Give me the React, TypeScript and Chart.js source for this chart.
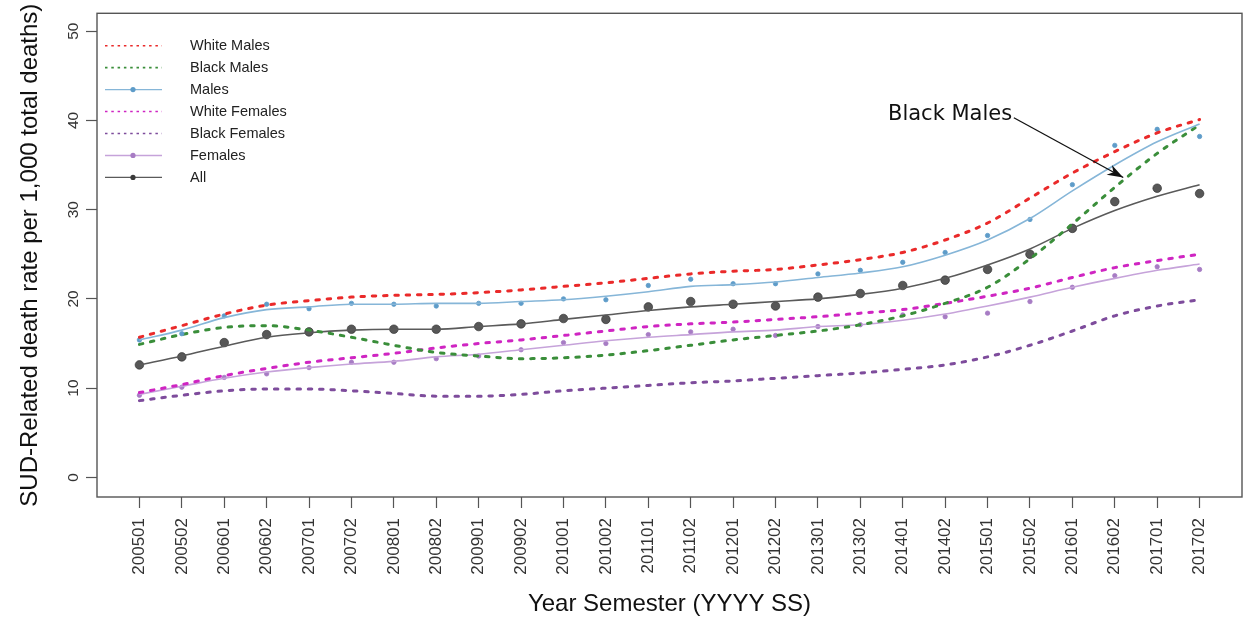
import React, { useEffect, useRef } from "react";
import { Chart, registerables } from "chart.js";

Chart.register(...registerables);

// ---------- data ----------
const semesters = [
  "200501", "200502", "200601", "200602", "200701", "200702", "200801", "200802",
  "200901", "200902", "201001", "201002", "201101", "201102", "201201", "201202",
  "201301", "201302", "201401", "201402", "201501", "201502", "201601", "201602",
  "201701", "201702",
];

const whiteMales = [15.7, 17.0, 18.3, 19.3, 19.8, 20.2, 20.4, 20.5, 20.7, 21.0, 21.4, 21.8, 22.3, 22.8, 23.1, 23.3, 23.8, 24.4, 25.2, 26.6, 28.5, 31.3, 34.1, 36.5, 38.6, 40.1];
const blackMales = [14.9, 16.0, 16.8, 17.0, 16.5, 15.7, 14.8, 14.0, 13.6, 13.3, 13.4, 13.7, 14.2, 14.8, 15.4, 15.9, 16.4, 17.1, 18.1, 19.5, 21.3, 24.5, 28.4, 32.5, 36.3, 39.5];
const malesFit = [15.4, 16.5, 17.9, 18.8, 19.1, 19.4, 19.4, 19.5, 19.5, 19.7, 19.9, 20.3, 20.8, 21.4, 21.6, 21.9, 22.4, 22.9, 23.6, 24.9, 26.6, 29.0, 32.1, 35.0, 37.6, 39.6];
const malesObs = [15.4, 16.1, 18.1, 19.4, 18.9, 19.5, 19.4, 19.2, 19.5, 19.5, 20.0, 19.9, 21.5, 22.2, 21.7, 21.7, 22.8, 23.2, 24.1, 25.2, 27.1, 28.9, 32.8, 37.2, 39.0, 38.2];
const whiteFemales = [9.5, 10.4, 11.4, 12.2, 12.9, 13.4, 13.9, 14.5, 15.0, 15.4, 15.9, 16.4, 16.9, 17.2, 17.4, 17.7, 18.0, 18.4, 18.8, 19.5, 20.3, 21.2, 22.4, 23.5, 24.3, 25.0];
const blackFemales = [8.6, 9.2, 9.7, 9.9, 9.9, 9.7, 9.4, 9.1, 9.1, 9.3, 9.7, 10.0, 10.3, 10.6, 10.8, 11.1, 11.4, 11.7, 12.1, 12.6, 13.5, 14.8, 16.4, 18.1, 19.2, 19.9];
const femalesFit = [9.3, 10.2, 11.1, 11.8, 12.3, 12.7, 13.0, 13.5, 13.8, 14.3, 14.8, 15.3, 15.7, 16.0, 16.3, 16.5, 16.9, 17.1, 17.6, 18.3, 19.2, 20.2, 21.3, 22.3, 23.2, 23.9];
const femalesObs = [9.2, 10.1, 11.2, 11.6, 12.3, 12.9, 12.9, 13.3, 13.6, 14.3, 15.1, 15.0, 16.0, 16.3, 16.6, 15.9, 16.9, 17.1, 18.2, 18.0, 18.4, 19.7, 21.3, 22.6, 23.6, 23.3];
const allFit = [12.6, 13.6, 14.7, 15.7, 16.2, 16.5, 16.6, 16.6, 16.9, 17.2, 17.7, 18.2, 18.7, 19.1, 19.4, 19.7, 20.0, 20.5, 21.2, 22.3, 23.8, 25.6, 27.9, 29.9, 31.5, 32.8];
const allObs = [12.6, 13.5, 15.1, 16.0, 16.3, 16.6, 16.6, 16.6, 16.9, 17.2, 17.8, 17.7, 19.1, 19.7, 19.4, 19.2, 20.2, 20.6, 21.5, 22.1, 23.3, 25.0, 27.9, 30.9, 32.4, 31.8];

const yTicks = [0, 10, 20, 30, 40, 50];
const legendNames = ["White Males", "Black Males", "Males", "White Females", "Black Females", "Females", "All"];
const annotationLabel = "Black Males";

// ---------- styles ----------
const FONT = "'Liberation Sans', Arial, Helvetica, sans-serif";
const C = {
  red: "#EA2A2A",
  green: "#3A8E3A",
  blue: "#86B6D8",
  bluePt: "#5E9CC9",
  magenta: "#CF25C2",
  purple: "#7E4C9C",
  lilac: "#C6A3DA",
  lilacPt: "#A77CC4",
  gray: "#5A5A5A",
  dark: "#3A3A3A",
};
const legendStyles = [
  { color: C.red, dotted: true },
  { color: C.green, dotted: true },
  { color: C.blue, dotted: false, pt: C.bluePt },
  { color: C.magenta, dotted: true },
  { color: C.purple, dotted: true },
  { color: C.lilac, dotted: false, pt: C.lilacPt },
  { color: C.gray, dotted: false, pt: C.dark },
];

const xy = (arr: number[]) => arr.map((v, i) => ({ x: i, y: v }));

const dashed = (label: string, data: number[], color: string) => ({
  label,
  data: xy(data),
  borderColor: color,
  backgroundColor: color,
  borderWidth: 3,
  borderDash: [3.5, 7.8],
  borderCapStyle: "round" as const,
  pointRadius: 0,
  cubicInterpolationMode: "monotone" as const,
  fill: false,
});
const solid = (label: string, data: number[], color: string) => ({
  label,
  data: xy(data),
  borderColor: color,
  backgroundColor: color,
  borderWidth: 1.6,
  pointRadius: 0,
  cubicInterpolationMode: "monotone" as const,
  fill: false,
});
const dots = (label: string, data: number[], color: string, r: number) => ({
  label,
  data: xy(data),
  showLine: false,
  borderColor: color,
  backgroundColor: color,
  borderWidth: 0.8,
  pointRadius: r,
});

const framePlugin = {
  id: "frame",
  afterDatasetsDraw(chart: any) {
    const { ctx, chartArea: a } = chart;
    ctx.save();
    ctx.strokeStyle = "#555";
    ctx.lineWidth = 1.4;
    ctx.strokeRect(a.left, a.top, a.right - a.left, a.bottom - a.top);
    ctx.restore();
  },
};

const legendPlugin = {
  id: "customLegend",
  afterDraw(chart: any) {
    const { ctx } = chart;
    ctx.save();
    const x0 = 105, x1 = 162, xm = 133, tx = 190, y0 = 45.7, dy = 21.95;
    legendNames.forEach((name, k) => {
      const st: any = legendStyles[k];
      const y = y0 + k * dy;
      ctx.strokeStyle = st.color;
      ctx.lineWidth = st.dotted ? 1.6 : 1.4;
      ctx.setLineDash(st.dotted ? [2.5, 3.8] : []);
      ctx.beginPath();
      ctx.moveTo(x0, y);
      ctx.lineTo(x1, y);
      ctx.stroke();
      ctx.setLineDash([]);
      if (st.pt) {
        ctx.fillStyle = st.pt;
        ctx.beginPath();
        ctx.arc(xm, y, 2.6, 0, Math.PI * 2);
        ctx.fill();
      }
      ctx.fillStyle = "#222";
      ctx.font = `14.5px ${FONT}`;
      ctx.textAlign = "left";
      ctx.textBaseline = "middle";
      ctx.fillText(name, tx, y + 0.5);
    });
    ctx.restore();
  },
};

const annotationPlugin = {
  id: "arrowNote",
  afterDraw(chart: any) {
    const { ctx, scales } = chart;
    const xs = scales.x, ys = scales.y;
    const tX = xs.getPixelForValue(20.58), tY = ys.getPixelForValue(40.7);
    const sX = xs.getPixelForValue(20.62), sY = ys.getPixelForValue(40.3);
    const eX = xs.getPixelForValue(23.2), eY = ys.getPixelForValue(33.6);
    ctx.save();
    ctx.fillStyle = "#111";
    ctx.font = "21px 'DejaVu Sans', sans-serif";
    ctx.textAlign = "right";
    ctx.textBaseline = "middle";
    ctx.fillText(annotationLabel, tX, tY);
    ctx.strokeStyle = "#111";
    ctx.lineWidth = 1.3;
    ctx.beginPath();
    ctx.moveTo(sX, sY);
    ctx.lineTo(eX, eY);
    ctx.stroke();
    const ang = Math.atan2(eY - sY, eX - sX);
    const len = 16, wid = 5.5;
    const bx = eX - len * Math.cos(ang), by = eY - len * Math.sin(ang);
    const nx = -Math.sin(ang), ny = Math.cos(ang);
    ctx.fillStyle = "#111";
    ctx.beginPath();
    ctx.moveTo(eX, eY);
    ctx.lineTo(bx + nx * wid, by + ny * wid);
    ctx.lineTo(eX - 0.7 * len * Math.cos(ang), eY - 0.7 * len * Math.sin(ang));
    ctx.lineTo(bx - nx * wid, by - ny * wid);
    ctx.closePath();
    ctx.fill();
    ctx.restore();
  },
};

export default function App() {
  const ref = useRef<HTMLCanvasElement | null>(null);
  useEffect(() => {
    if (!ref.current) return;
    const chart = new Chart(ref.current, {
      type: "line",
      data: {
        datasets: [
          dashed("White Males", whiteMales, C.red),
          solid("Males", malesFit, C.blue),
          dots("Males (observed)", malesObs, C.bluePt, 2.2),
          dashed("Black Males", blackMales, C.green),
          solid("All", allFit, C.gray),
          dots("All (observed)", allObs, "rgba(45,45,45,0.8)", 4.3),
          dashed("White Females", whiteFemales, C.magenta),
          solid("Females", femalesFit, C.lilac),
          dots("Females (observed)", femalesObs, C.lilacPt, 2.2),
          dashed("Black Females", blackFemales, C.purple),
        ] as any,
      },
      options: {
        animation: false,
        responsive: false,
        devicePixelRatio: 1,
        layout: { padding: { top: 7, right: 9, bottom: 0, left: 0 } },
        plugins: { legend: { display: false }, tooltip: { enabled: false } },
        scales: {
          x: {
            type: "linear",
            min: -1,
            max: 26,
            afterBuildTicks: (s: any) => {
              s.ticks = semesters.map((_, i) => ({ value: i }));
            },
            afterFit: (s: any) => {
              s.height = 125;
            },
            ticks: {
              autoSkip: false,
              minRotation: 90,
              maxRotation: 90,
              padding: 10,
              color: "#333",
              font: { family: FONT, size: 17 },
              callback: (v: any) => semesters[v] ?? "",
            },
            grid: { drawOnChartArea: false, drawTicks: true, tickLength: 11, tickColor: "#555", tickWidth: 1.2 },
            border: { display: false },
            title: {
              display: true,
              text: "Year Semester (YYYY SS)",
              color: "#111",
              font: { family: FONT, size: 24 },
              padding: { top: 0, bottom: 3 },
            },
          },
          y: {
            type: "linear",
            min: -2.2,
            max: 52,
            afterBuildTicks: (s: any) => {
              s.ticks = yTicks.map((v) => ({ value: v }));
            },
            afterFit: (s: any) => {
              s.width = 97;
            },
            ticks: {
              minRotation: 90,
              maxRotation: 90,
              crossAlign: "center",
              padding: 4,
              color: "#333",
              font: { family: FONT, size: 15.5 },
            },
            grid: { drawOnChartArea: false, drawTicks: true, tickLength: 11, tickColor: "#555", tickWidth: 1.2 },
            border: { display: false },
            title: {
              display: true,
              text: "SUD-Related death rate per 1,000 total deaths)",
              color: "#111",
              font: { family: FONT, size: 24 },
              padding: { top: 16, bottom: 0 },
            },
          },
        },
      } as any,
      plugins: [framePlugin, legendPlugin, annotationPlugin],
    });
    return () => chart.destroy();
  }, []);

  return (
    <div style={{ position: "absolute", left: 0, top: 0, width: 1251, height: 622, background: "#fff" }}>
      <canvas ref={ref} width={1251} height={622} />
    </div>
  );
}
